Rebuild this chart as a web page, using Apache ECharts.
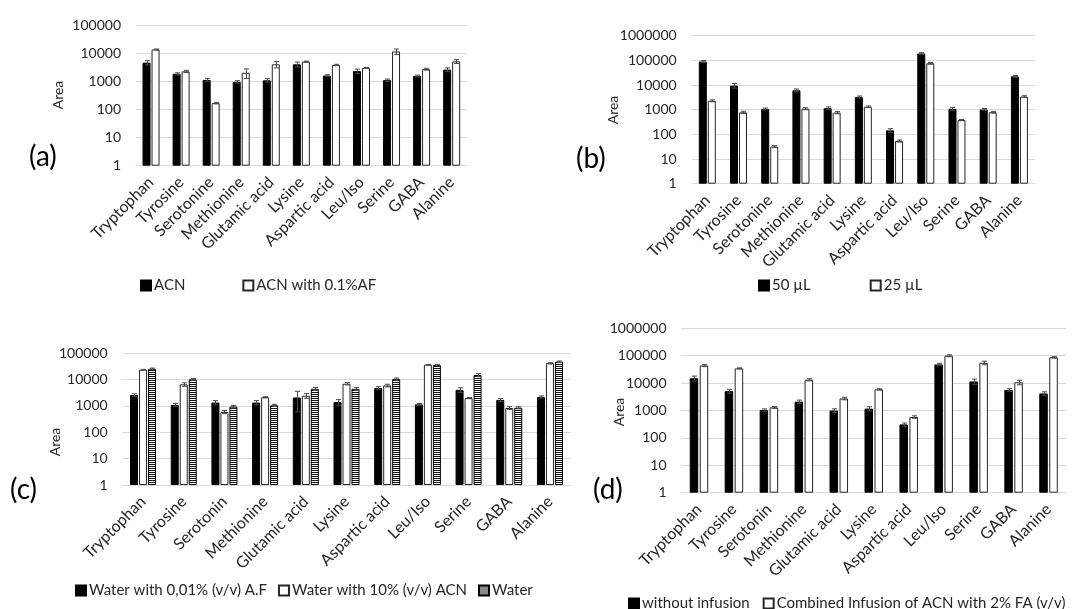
<!DOCTYPE html>
<html><head><meta charset="utf-8">
<script src="https://cdn.jsdelivr.net/npm/echarts@6/dist/echarts.min.js"></script>
<style>html,body{margin:0;padding:0;background:#fff}#c{width:1082px;height:609px}</style>
</head><body><div id="c"></div>
<script>
// ---------- DATA ----------
const catsAB = ['Tryptophan','Tyrosine','Serotonine','Methionine','Glutamic acid','Lysine','Aspartic acid','Leu/Iso','Serine','GABA','Alanine'];
const catsCD = ['Tryptophan','Tyrosine','Serotonin','Methionine','Glutamic acid','Lysine','Aspartic acid','Leu/Iso','Serine','GABA','Alanine'];

// (a)
const aACN      = [4600, 1850, 1120, 950, 1080, 4000, 1600, 2300, 1100, 1550, 2600];
const aACNerr   = [800, 150, 150, 100, 150, 800, 100, 400, 100, 100, 400];
const aACNAF    = [13500, 2250, 168, 2000, 4000, 5000, 3800, 3000, 11500, 2700, 5100];
const aACNAFerr = [500, 200, 10, 750, 1000, 200, 200, 100, 2500, 200, 800];

// (b)
const b50     = [90000, 9500, 1070, 6100, 1150, 3300, 145, 190000, 1080, 1020, 22500];
const b50err  = [8000, 2000, 100, 800, 150, 300, 25, 15000, 150, 100, 2000];
const b25     = [2300, 780, 32, 1100, 760, 1320, 54, 76000, 380, 790, 3400];
const b25err  = [200, 80, 3, 100, 80, 100, 5, 6000, 20, 60, 300];

// (c)
const cAF       = [2600, 1100, 1350, 1350, 2100, 1400, 4800, 1150, 4100, 1700, 2200];
const cAFerr    = [300, 150, 250, 250, 1500, 350, 600, 100, 800, 200, 200];
const cACN      = [24000, 6600, 590, 2150, 2450, 7000, 6000, 37000, 2000, 840, 42000];
const cACNerr   = [500, 1000, 80, 100, 500, 700, 700, 1000, 100, 100, 2000];
const cWater    = [26000, 10200, 950, 1060, 4500, 4500, 10500, 36000, 15000, 860, 48000];
const cWaterErr = [1500, 800, 100, 100, 600, 600, 1000, 2000, 2000, 80, 3000];

// (d)
const dWithout    = [15000, 5100, 1040, 2100, 1000, 1170, 310, 48000, 11500, 5600, 4200];
const dWithoutErr = [3000, 800, 100, 300, 150, 200, 40, 5000, 2500, 700, 600];
const dComb       = [44000, 34500, 1300, 13300, 2750, 5900, 580, 100000, 55000, 10700, 87000];
const dCombErr    = [4000, 1500, 100, 1200, 300, 300, 60, 8000, 8000, 2000, 5000];

// ---------- STYLE ----------
const FONT = 'Lato';
const TXT = '#262626';
const hatch = document.createElement('canvas');
hatch.width = 4; hatch.height = 2;
(function(){const g=hatch.getContext('2d');g.fillStyle='#fff';g.fillRect(0,0,4,2);g.fillStyle='#111';g.fillRect(0,0,4,1);})();

const grids = [
  {left:136, top:25, width:330.7, height:140.7},
  {left:691.7, top:35.7, width:343.3, height:148},
  {left:122.7, top:353.3, width:447.6, height:131.7},
  {left:681.5, top:328.3, width:384.5, height:164.4}
];
const yMax = [1e5, 1e6, 1e5, 1e6];
const cats = [catsAB, catsAB, catsCD, catsCD];

const xAxes = grids.map((g,k)=>({
  type:'category', gridIndex:k, data:cats[k],
  axisLine:{show:true, lineStyle:{color:'#d9d9d9', width:1}},
  axisTick:{show:false},
  axisLabel:{interval:0, rotate:45, fontFamily:FONT, fontSize:16, color:TXT, margin:14, padding:[26,0,0,0]}
}));
const yAxes = grids.map((g,k)=>({
  type:'log', logBase:10, gridIndex:k, min:1, max:yMax[k],
  axisLine:{show:false}, axisTick:{show:false},
  splitLine:{show:true, lineStyle:{color:'#d9d9d9', width:1}},
  axisLabel:{fontFamily:FONT, fontSize:14, color:TXT, margin:15, formatter:v=>String(Math.round(v))}
}));

const series = [];
function addBars(k, name, data, errs, idx, n, w, gap, style){
  series.push({
    type:'bar', name:name, xAxisIndex:k, yAxisIndex:k, data:data,
    barWidth:w, barGap:(gap/w*100)+'%',
    itemStyle:style, emphasis:{disabled:true}, animation:false
  });
  series.push({
    type:'custom', name:'err_'+k+'_'+idx, xAxisIndex:k, yAxisIndex:k, z:5, silent:true, animation:false,
    data:data.map((v,i)=>[i, v, errs[i]]),
    encode:{x:0, y:1},
    renderItem:function(params, api){
      const i = api.value(0), v = api.value(1), e = api.value(2);
      const off = (idx-(n-1)/2)*(w+gap);
      const p = api.coord([i, v]);
      const t = api.coord([i, v+e]);
      const b = api.coord([i, Math.max(v-e, 1.01)]);
      const x = Math.round(p[0]+off)+0.5;
      const cap = 2.5;
      const st = {stroke:'#4a4a4a', lineWidth:1};
      return {type:'group', children:[
        {type:'line', shape:{x1:x, y1:t[1], x2:x, y2:b[1]}, style:st},
        {type:'line', shape:{x1:x-cap, y1:t[1], x2:x+cap, y2:t[1]}, style:st},
        {type:'line', shape:{x1:x-cap, y1:b[1], x2:x+cap, y2:b[1]}, style:st}
      ]};
    }
  });
}
const black = {color:'#000', borderColor:'#000', borderWidth:1};
const white = {color:'#fff', borderColor:'#262626', borderWidth:1};
const hatched = {color:{image:hatch, repeat:'repeat'}, borderColor:'#000', borderWidth:1};

addBars(0,'ACN',aACN,aACNerr,0,2,8,1,black);
addBars(0,'ACN with 0.1%AF',aACNAF,aACNAFerr,1,2,8,1,white);
addBars(1,'50 µL',b50,b50err,0,2,8,1,black);
addBars(1,'25 µL',b25,b25err,1,2,8,1,white);
addBars(2,'Water with 0,01% (v/v) A.F',cAF,cAFerr,0,3,8,1,black);
addBars(2,'Water with 10% (v/v) ACN',cACN,cACNerr,1,3,8,1,white);
addBars(2,'Water',cWater,cWaterErr,2,3,8,1,hatched);
addBars(3,'without infusion',dWithout,dWithoutErr,0,2,8.5,1.5,black);
addBars(3,'Combined Infusion of ACN with 2% FA (v/v)',dComb,dCombErr,1,2,8.5,1.5,white);

const legBase = {orient:'horizontal', itemWidth:10, itemHeight:10, icon:'rect',
  textStyle:{fontFamily:FONT, fontSize:15, color:TXT, padding:[0,0,0,-2]}, selectedMode:false};
const legends = [
  Object.assign({}, legBase, {left:135, top:273, itemGap:57, data:['ACN','ACN with 0.1%AF']}),
  Object.assign({}, legBase, {left:753, top:273, itemGap:59, data:['50 µL','25 µL']}),
  Object.assign({}, legBase, {left:70, top:578, itemGap:11, data:['Water with 0,01% (v/v) A.F','Water with 10% (v/v) ACN','Water']}),
  Object.assign({}, legBase, {left:623, top:591, itemGap:13, data:['without infusion','Combined Infusion of ACN with 2% FA (v/v)']})
];

function label(txt, x, y){return {type:'text', left:x, top:y, style:{text:txt, font:'28px '+FONT, fill:'#000'}};}
function area(x, yc){return {type:'text', x:x, y:yc, rotation:Math.PI/2, style:{text:'Area', font:'14px '+FONT, fill:TXT, align:'center', verticalAlign:'middle'}};}

const chart = echarts.init(document.getElementById('c'), null, {renderer:'canvas'});
chart.setOption({
  animation:false,
  backgroundColor:'#fff',
  grid:grids,
  xAxis:xAxes,
  yAxis:yAxes,
  legend:legends,
  series:series,
  graphic:[
    label('(a)', 29, 143), label('(b)', 576, 145), label('(c)', 10, 476), label('(d)', 593, 476),
    area(58, 95), area(613, 110), area(55, 442), area(619, 412)
  ]
});
</script></body></html>
